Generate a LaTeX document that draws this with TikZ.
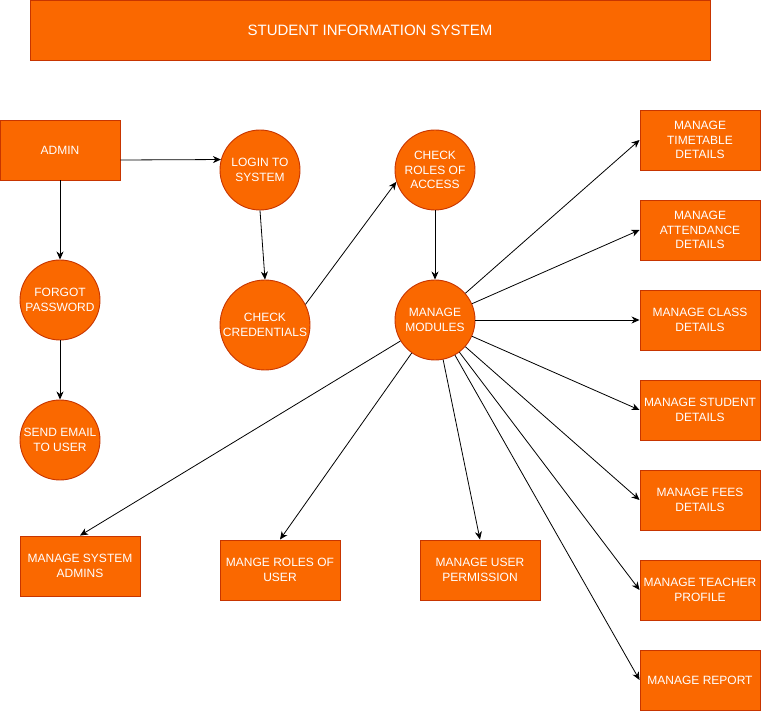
\documentclass[tikz,border=0pt]{standalone}
\usepackage{fontspec}
\setmainfont{Liberation Sans}
\usetikzlibrary{arrows.meta}
\definecolor{boxfill}{HTML}{FA6800}
\definecolor{boxline}{HTML}{C73500}
\begin{document}
\begin{tikzpicture}[x=1pt,y=-1pt,
  base/.style={fill=boxfill,draw=boxline,line width=0.9pt,text=white,
    align=center,inner sep=0pt,font=\fontsize{12}{14.4}\selectfont},
  rectbox/.style={base,rectangle,minimum width=120pt,minimum height=60pt},
  bubble/.style={base,circle,minimum size=80pt},
  bigbubble/.style={base,circle,minimum size=90pt},
  arr/.style={line width=0.8pt,-{Stealth[length=8pt,width=7pt,inset=2.5pt]}}]
\useasboundingbox (0,0) rectangle (761,711);

% title banner
\node[base,rectangle,minimum width=680pt,minimum height=60pt,
  font=\fontsize{15}{18}\selectfont] (title) at (370,30) {STUDENT INFORMATION SYSTEM};

% login flow
\node[rectbox] (admin) at (60,150) {ADMIN};
\node[bubble] (login) at (260,170) {LOGIN TO\\SYSTEM};
\node[bubble] (forgot) at (60,300) {FORGOT\\PASSWORD};
\node[bubble] (email) at (60,440) {SEND EMAIL\\TO USER};
\node[bigbubble] (cred) at (265,325) {CHECK\\CREDENTIALS};
\node[bubble] (roles) at (435,170) {CHECK\\ROLES OF\\ACCESS};
\node[bubble] (modules) at (435,320) {MANAGE\\MODULES};

% modules on the right
\node[rectbox] (timetable) at (700,140) {MANAGE\\TIMETABLE\\DETAILS};
\node[rectbox] (attendance) at (700,230) {MANAGE\\ATTENDANCE\\DETAILS};
\node[rectbox] (class) at (700,320) {MANAGE CLASS\\DETAILS};
\node[rectbox] (student) at (700,410) {MANAGE STUDENT\\DETAILS};
\node[rectbox] (fees) at (700,500) {MANAGE FEES\\DETAILS};
\node[rectbox] (teacher) at (700,590) {MANAGE TEACHER\\PROFILE};
\node[rectbox] (report) at (700,680) {MANAGE REPORT};

% modules along the bottom
\node[rectbox] (sysadmins) at (80,566) {MANAGE SYSTEM\\ADMINS};
\node[rectbox] (userroles) at (280,570) {MANGE ROLES OF\\USER};
\node[rectbox] (permission) at (480,570) {MANAGE USER\\PERMISSION};

% connectors
\draw[arr] ([yshift=-10pt]admin.east) -- (login.165.5);
\draw[arr] (admin) -- (forgot);
\draw[arr] (forgot) -- (email);
\draw[arr] (login.south) -- (cred.north);
\draw[arr] (cred.27) -- (roles.197);
\draw[arr] (roles) -- (modules);

\foreach \t in {timetable,attendance,class,student,fees,teacher,report}
  \draw[arr] (modules) -- (\t.west);
\foreach \t in {sysadmins,userroles,permission}
  \draw[arr] (modules) -- (\t.north);
\end{tikzpicture}
\end{document}
